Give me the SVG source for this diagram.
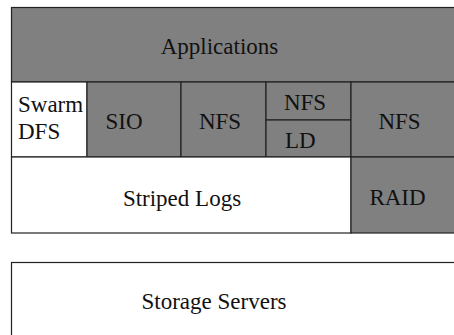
<svg xmlns="http://www.w3.org/2000/svg" width="454" height="335" viewBox="0 0 454 335">
<style>
.g{fill:#808080;stroke:#222;stroke-width:1.2}
.w{fill:#fff;stroke:#222;stroke-width:1.2}
</style>
<rect width="454" height="335" fill="#fff"/>
<g font-family="Liberation Serif, DejaVu Serif, serif" font-size="23" fill="#111" text-anchor="middle">
<g id="applications"><rect class="g" x="11.5" y="7.5" width="450" height="74.5"/><text x="219.5" y="54">Applications</text></g>
<g id="swarm"><rect class="w" x="11.5" y="82" width="75.5" height="75"/><text text-anchor="start" x="18" y="111.5">Swarm</text><text text-anchor="start" x="18" y="139">DFS</text></g>
<g id="sio"><rect class="g" x="87" y="82" width="94" height="75"/><text x="124" y="129">SIO</text></g>
<g id="nfs1"><rect class="g" x="181" y="82" width="85" height="75"/><text x="220" y="129">NFS</text></g>
<g id="nfs2"><rect class="g" x="266" y="82" width="85" height="38"/><text x="305" y="110">NFS</text></g>
<g id="ld"><rect class="g" x="266" y="120" width="85" height="37"/><text text-anchor="start" x="285" y="147.5">LD</text></g>
<g id="nfs3"><rect class="g" x="351" y="82" width="110" height="75"/><text x="399.5" y="129">NFS</text></g>
<g id="striped"><rect class="w" x="11.5" y="157" width="339.5" height="76"/><text x="182" y="205.5">Striped Logs</text></g>
<g id="raid"><rect class="g" x="351" y="157" width="110" height="76"/><text x="397.5" y="205">RAID</text></g>
<g id="storage"><rect class="w" x="11.5" y="262.5" width="450" height="80"/><text x="214" y="309">Storage Servers</text></g>
</g>
<g id="connectors"></g>
</svg>
